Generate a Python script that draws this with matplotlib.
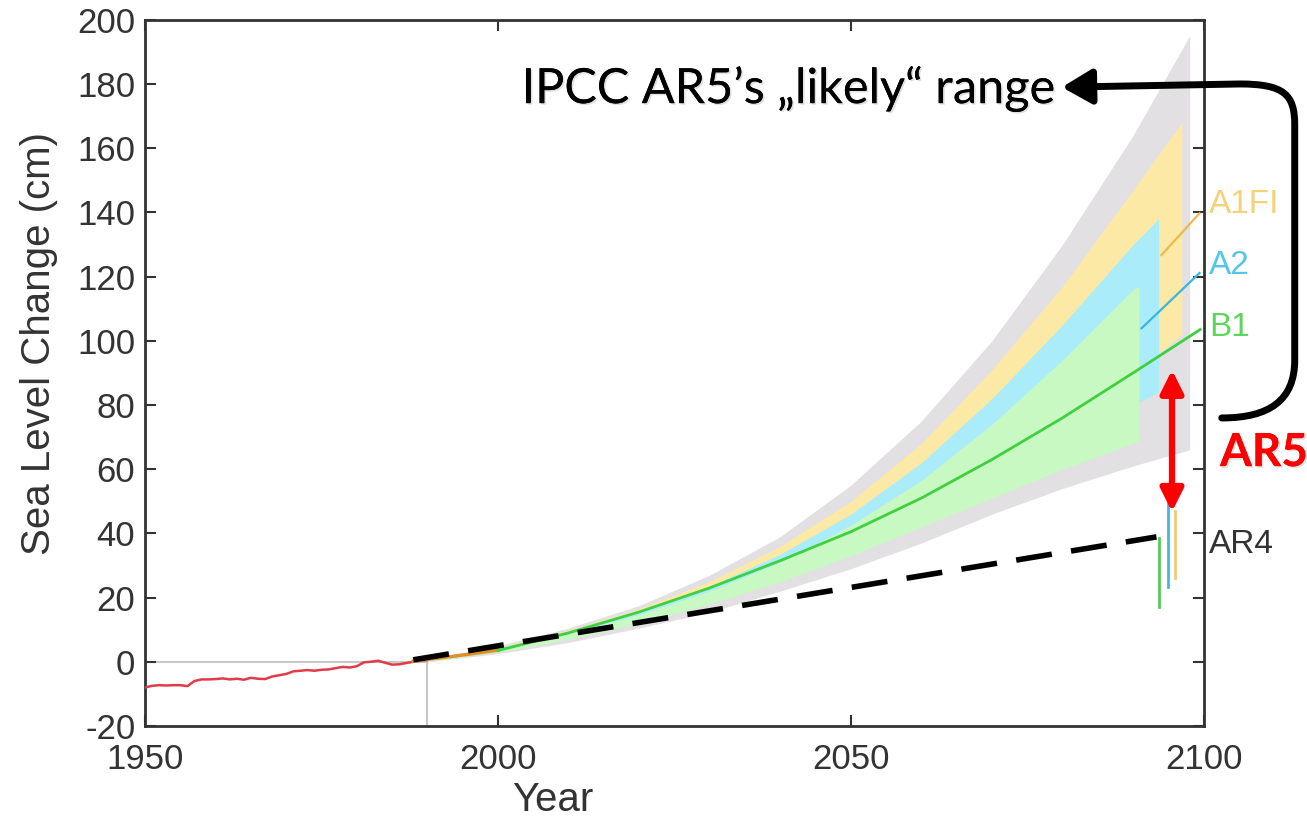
import matplotlib
matplotlib.use("Agg")
import matplotlib.pyplot as plt
import matplotlib.patheffects as pe
from matplotlib.patches import FancyArrowPatch
from matplotlib.path import Path

plt.rcParams['axes.unicode_minus'] = False

# observed sea level (cm), 1950-1990
obs_years = list(range(1950, 1991))
obs_vals = [-8.0, -7.5, -7.3, -7.4, -7.3, -7.3, -7.6, -6.0, -5.5, -5.5,
            -5.4, -5.2, -5.5, -5.3, -5.6, -5.0, -5.3, -5.4, -4.6, -4.2,
            -3.8, -3.0, -2.8, -2.6, -2.8, -2.5, -2.4, -2.0, -1.6, -1.8,
            -1.4, -0.2, 0.0, 0.3, -0.3, -0.9, -0.8, -0.4, 0.0, 0.3, 0.5]

dec = [1990, 2000, 2010, 2020, 2030, 2040, 2050, 2060, 2070, 2080, 2090]

# full range (grey)
grey_years = dec + [2098]
grey_hi = [0, 5, 10.5, 17.5, 27, 39, 55, 75, 100, 130, 164, 195]
grey_lo = [0, 2.5, 6, 10.5, 15.5, 22, 29, 37, 46, 54, 61, 66]

# scenario ranges
a1fi_years = dec + [2096.9]
a1fi_hi = [0, 4.7, 9.8, 16.5, 25, 36, 50, 68, 91, 117, 147, 168]
a1fi_lo = [0, 3.4, 8, 14, 21, 29, 38, 49, 61, 74, 90, 102]

a2_years = dec + [2093.6]
a2_hi = [0, 4.5, 9.2, 15.5, 23.5, 33.5, 46, 62, 82, 105, 130, 138]
a2_lo = [0, 3.2, 7.5, 13, 19.5, 27, 36, 46, 57, 68, 80, 84]

b1_years = dec + [2090.8]
b1_hi = [0, 4.2, 8.7, 14.7, 22, 31, 42.5, 56.5, 74, 94, 116, 117]
b1_lo = [0, 3, 7, 12, 18, 25, 33, 42, 51, 60, 68, 69]

# central B1 line
b1_line_years = dec + [2099.5]
b1_line = [0, 3.5, 9, 15.5, 23, 31.5, 40.5, 51, 63, 76, 90, 103.5]
a1fi_early_years = [1988, 1994, 2000]
a1fi_early = [0.2, 1.8, 3.6]

# label connector lines
a1fi_tail_years = [2094.0, 2099.4]
a1fi_tail = [126.7, 139.7]
a2_tail_years = [2091.2, 2099.4]
a2_tail = [103.9, 121.1]

# AR4 ranges
ar4_years = [2093.7, 2094.9, 2095.9]
ar4_lo = [17.2, 23.4, 26.0]
ar4_hi = [38.4, 50.0, 46.9]
ar4_colors = ['#55cc55', '#44b8e0', '#f5c878']

# linear trend
trend_years = [1988, 2093.3]
trend_vals = [0.6, 38.9]

# AR5 likely range arrow
ar5_year = 2095.5
ar5_lo, ar5_hi = 46.7, 90.9

fig = plt.figure(figsize=(13.07, 8.24), dpi=100)
ax = fig.add_axes([0.111, 0.119, 0.810, 0.857])

ax.plot([1950, 1990], [0, 0], color='#c8c8c8', lw=1.5, zorder=1)
ax.plot([1990, 1990], [-20, 0], color='#c8c8c8', lw=1.5, zorder=1)

ax.fill_between(grey_years, grey_lo, grey_hi, color='#e2e0e2', lw=0, zorder=1)
ax.fill_between(a1fi_years, a1fi_lo, a1fi_hi, color='#fde9a6', lw=0, zorder=2)
ax.fill_between(a2_years, a2_lo, a2_hi, color='#abecfb', lw=0, zorder=3)
ax.fill_between(b1_years, b1_lo, b1_hi, color='#c9f9c3', lw=0, zorder=4)

ax.plot(obs_years, obs_vals, color='#e03c48', lw=1.8, zorder=6)
ax.plot(a1fi_early_years, a1fi_early, color='#e0902a', lw=2.5, zorder=6)
ax.plot(b1_line_years[1:], b1_line[1:], color='#3fcf3f', lw=2, zorder=7)
ax.plot(a1fi_tail_years, a1fi_tail, color='#f0b848', lw=1.6, zorder=7)
ax.plot(a2_tail_years, a2_tail, color='#38b6dc', lw=1.6, zorder=7)

for x, lo, hi, c in zip(ar4_years, ar4_lo, ar4_hi, ar4_colors):
    ax.plot([x, x], [lo, hi], color=c, lw=2, zorder=7)

ax.plot(trend_years, trend_vals, color='black', lw=4, ls=(0, (6.5, 3.5)),
        zorder=8, solid_capstyle='butt', dash_capstyle='butt')

ax.annotate('', xy=(ar5_year, ar5_lo), xytext=(ar5_year, ar5_hi),
            arrowprops=dict(arrowstyle='<|-|>', color='#ff0000', lw=4.5,
                            mutation_scale=34, shrinkA=0, shrinkB=0),
            zorder=9)

# bracket arrow to the headline
verts = [(2102.55, 75.95), (2109.35, 75.95), (2112.89, 81.56), (2112.89, 94.02),
         (2112.89, 167.23), (2112.89, 176.57), (2111.47, 180.0), (2105.1, 180.0),
         (2079.9, 179.0)]
codes = [Path.MOVETO, Path.CURVE4, Path.CURVE4, Path.CURVE4,
         Path.LINETO, Path.CURVE4, Path.CURVE4, Path.CURVE4, Path.LINETO]
arr = FancyArrowPatch(path=Path(verts, codes), arrowstyle='-|>,head_length=0.6,head_width=0.35',
                      mutation_scale=30, color='black', lw=5, shrinkA=0, shrinkB=0,
                      clip_on=False, zorder=10)
ax.add_patch(arr)

ax.text(2079.0, 178.5, 'IPCC AR5\u2019s \u201elikely\u201c range', family='Lato',
        fontsize=35, ha='right', va='center', color='black', clip_on=False,
        path_effects=[pe.withSimplePatchShadow(offset=(1.2, -1.2), shadow_rgbFace='#999999', alpha=0.3),
                      pe.Normal()])
ax.text(2102.3, 65, 'AR5', family='Lato', fontweight='bold', fontsize=33,
        color='#ff0000', ha='left', va='center', clip_on=False,
        path_effects=[pe.withSimplePatchShadow(offset=(1.2, -1.2), shadow_rgbFace='#999999', alpha=0.3),
                      pe.Normal()])

lab_font = dict(family='Liberation Sans', fontsize=24, ha='left', va='center', clip_on=False)
ax.text(2100.8, 142.3, 'A1FI', color='#f3d27a', **lab_font)
ax.text(2100.8, 123.6, 'A2', color='#55c6e6', **lab_font)
ax.text(2100.8, 104.0, 'B1', color='#5cd65c', **lab_font)
ax.text(2100.8, 36.4, 'AR4', color='#333333', **lab_font)

ax.set_xlim(1950, 2100)
ax.set_ylim(-20, 200)
ax.set_xticks([1950, 2000, 2050, 2100])
ax.set_yticks(range(-20, 201, 20))
ax.tick_params(direction='in', length=8, width=1.5, top=True, right=True,
               labelsize=25, labelcolor='#333333', color='#333333')
ax.tick_params(axis='x', pad=12)
ax.tick_params(axis='y', pad=7)
for lbl in ax.get_xticklabels() + ax.get_yticklabels():
    lbl.set_family('Liberation Sans')
for s in ax.spines.values():
    s.set_linewidth(2)
    s.set_color('#333333')

ax.set_xlabel('Year', family='Liberation Sans', fontsize=29, color='#333333', va='center')
ax.set_ylabel('Sea Level Change (cm)', family='Liberation Sans', fontsize=29, color='#333333',
              va='center')
ax.xaxis.set_label_coords(0.385, -0.105)
ax.yaxis.set_label_coords(-0.1, 0.542)

fig.savefig('out.png', dpi=100)
